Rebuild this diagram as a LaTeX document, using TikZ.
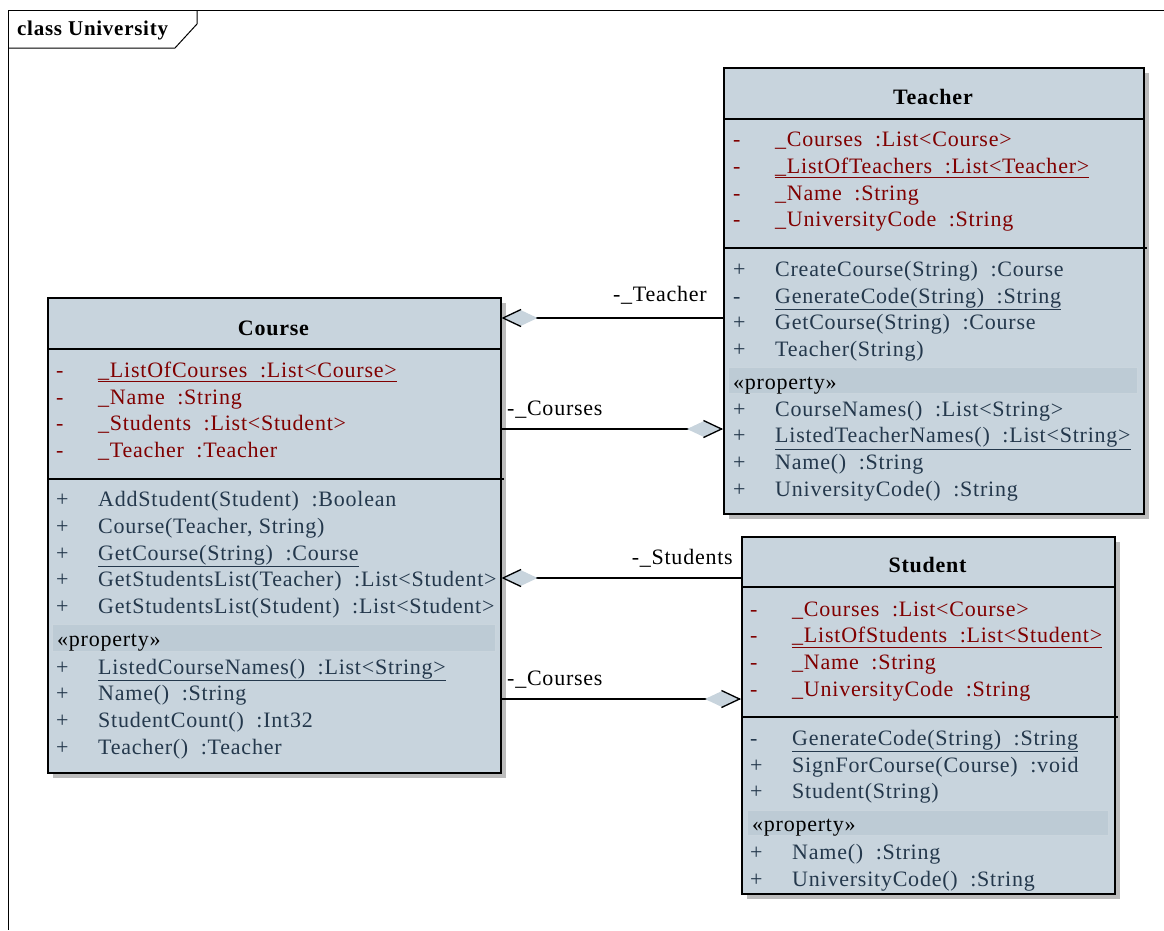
\documentclass[tikz,border=0pt]{standalone}
\usepackage{fontspec}
\setmainfont{Liberation Serif}[LetterSpace=3.5]
\usetikzlibrary{positioning,calc,arrows.meta,shadows}
\definecolor{classfill}{RGB}{200,212,221}
\definecolor{propband}{RGB}{189,203,213}
\definecolor{attrred}{RGB}{128,0,0}
\definecolor{opblue}{RGB}{36,56,76}
\definecolor{shadowgrey}{RGB}{188,188,188}
\newcommand{\vis}[1]{\makebox[42pt][l]{#1}}
\tikzset{>=latex}

\begin{document}
\begin{tikzpicture}[x=1pt, y=-1pt,
  every node/.style={font=\fontsize{22}{26}\selectfont, inner sep=0pt},
  classbox/.style={draw, line width=1.5pt, fill=classfill, anchor=north west,
    drop shadow={shadow xshift=5pt, shadow yshift=-5pt, fill=shadowgrey, opacity=1}},
  sepline/.style={line width=1.5pt},
  band/.style={fill=propband, draw=propband!80!white, line width=0.6pt},
  header/.style={anchor=base, font=\fontsize{22}{26}\selectfont\bfseries},
  attr/.style={anchor=base west, text=attrred},
  oper/.style={anchor=base west, text=opblue},
  stereo/.style={anchor=base west, text=black},
  rolename/.style={text=black},
  aggr/.style={line width=1.3pt,
    -{Diamond[length=36pt, width=17pt, color=classfill]}},
  tipedge/.style={line width=1.3pt,
    -{Straight Barb[length=18pt, width=17pt, line width=1.3pt]}}
]
\useasboundingbox (0,0) rectangle (1164,930);

% frame
\draw[line width=0.8pt] (1164,10) -- (8,10) -- (8,930);
\draw[line width=1pt] (197,10) -- (197,24) -- (175,48) -- (8,48);
\node[anchor=base west, font=\fontsize{21}{26}\selectfont\bfseries] (frame) at (17,35) {class University};

% class boxes
\node[classbox, minimum width=453pt, minimum height=475pt] (course) at (47,297) {};
\node[classbox, minimum width=420pt, minimum height=446pt] (teacher) at (723,67) {};
\node[classbox, minimum width=373pt, minimum height=357pt] (student) at (741,536) {};

\draw[sepline] ($(course.north west)+(0,52)$) -- ($(course.north east)+(0,52)$);
\draw[sepline] ($(course.north west)+(0,182)$) -- ($(course.north east)+(2,182)$);
\draw[sepline] ($(teacher.north west)+(0,52)$) -- ($(teacher.north east)+(0,52)$);
\draw[sepline] ($(teacher.north west)+(0,181)$) -- ($(teacher.north east)+(2,181)$);
\draw[sepline] ($(student.north west)+(0,51)$) -- ($(student.north east)+(0,51)$);
\draw[sepline] ($(student.north west)+(0,181)$) -- ($(student.north east)+(2,181)$);

\path[band] (52,624) rectangle (495,651);
\path[band] (728,367) rectangle (1137,393);
\path[band] (747,810) rectangle (1108,835);

% associations
\draw[aggr] (teacher.west |- 0,318) -- (course.east |- 0,318);
\draw[aggr] (course.east |- 0,429) -- (teacher.west |- 0,429);
\draw[aggr] (student.west |- 0,578) -- (course.east |- 0,578);
\draw[aggr] (course.east |- 0,699) -- (student.west |- 0,699);
\draw[tipedge] (course.east |- 0,318) ++(1,0) -- (course.east |- 0,318);
\draw[tipedge] (teacher.west |- 0,429) ++(-1,0) -- (teacher.west |- 0,429);
\draw[tipedge] (course.east |- 0,578) ++(1,0) -- (course.east |- 0,578);
\draw[tipedge] (student.west |- 0,699) ++(-1,0) -- (student.west |- 0,699);
\node[rolename, anchor=base east] (r-teacher) at (707,301.7) {-\_Teacher};
\node[rolename, anchor=base west] (r-courses) at (507,415) {-\_Courses};
\node[rolename, anchor=base east] (r-students) at (733,564) {-\_Students};
\node[rolename, anchor=base west] (r-courses2) at (507,685) {-\_Courses};

% Course
\node[header] (c-head) at (273.5,335) {Course};
\node[attr] (c-a1) at (56,377.3) {\vis{-}\underline{\_ListOfCourses~ :List<Course>}};
\node[attr] (c-a2) at (56,404) {\vis{-}\_Name~ :String};
\node[attr] (c-a3) at (56,430.7) {\vis{-}\_Students~ :List<Student>};
\node[attr] (c-a4) at (56,457.3) {\vis{-}\_Teacher~ :Teacher};
\node[oper] (c-o1) at (56,506.7) {\vis{+}AddStudent(Student)~ :Boolean};
\node[oper] (c-o2) at (56,533.3) {\vis{+}Course(Teacher, String)};
\node[oper] (c-o3) at (56,560) {\vis{+}\underline{GetCourse(String)~ :Course}};
\node[oper] (c-o4) at (56,586.7) {\vis{+}GetStudentsList(Teacher)~ :List<Student>};
\node[oper] (c-o5) at (56,613.3) {\vis{+}GetStudentsList(Student)~ :List<Student>};
\node[stereo] (c-prop) at (57,646.7) {«property»};
\node[oper] (c-o6) at (56,674) {\vis{+}\underline{ListedCourseNames()~ :List<String>}};
\node[oper] (c-o7) at (56,700.7) {\vis{+}Name()~ :String};
\node[oper] (c-o8) at (56,727.3) {\vis{+}StudentCount()~ :Int32};
\node[oper] (c-o9) at (56,754) {\vis{+}Teacher()~ :Teacher};

% Teacher
\node[header] (t-head) at (933,104) {Teacher};
\node[attr] (t-a1) at (733,146.7) {\vis{-}\_Courses~ :List<Course>};
\node[attr] (t-a2) at (733,173.3) {\vis{-}\underline{\_ListOfTeachers~ :List<Teacher>}};
\node[attr] (t-a3) at (733,200) {\vis{-}\_Name~ :String};
\node[attr] (t-a4) at (733,226.7) {\vis{-}\_UniversityCode~ :String};
\node[oper] (t-o1) at (733,276.3) {\vis{+}CreateCourse(String)~ :Course};
\node[oper] (t-o2) at (733,303) {\vis{-}\underline{GenerateCode(String)~ :String}};
\node[oper] (t-o3) at (733,329.7) {\vis{+}GetCourse(String)~ :Course};
\node[oper] (t-o4) at (733,356.3) {\vis{+}Teacher(String)};
\node[stereo] (t-prop) at (733,389) {«property»};
\node[oper] (t-o5) at (733,416) {\vis{+}CourseNames()~ :List<String>};
\node[oper] (t-o6) at (733,442.7) {\vis{+}\underline{ListedTeacherNames()~ :List<String>}};
\node[oper] (t-o7) at (733,469.3) {\vis{+}Name()~ :String};
\node[oper] (t-o8) at (733,496) {\vis{+}UniversityCode()~ :String};

% Student
\node[header] (s-head) at (927.5,572.3) {Student};
\node[attr] (s-a1) at (750,616) {\vis{-}\_Courses~ :List<Course>};
\node[attr] (s-a2) at (750,642.7) {\vis{-}\underline{\_ListOfStudents~ :List<Student>}};
\node[attr] (s-a3) at (750,669.3) {\vis{-}\_Name~ :String};
\node[attr] (s-a4) at (750,696) {\vis{-}\_UniversityCode~ :String};
\node[oper] (s-o1) at (750,745.3) {\vis{-}\underline{GenerateCode(String)~ :String}};
\node[oper] (s-o2) at (750,772) {\vis{+}SignForCourse(Course)~ :void};
\node[oper] (s-o3) at (750,798.7) {\vis{+}Student(String)};
\node[stereo] (s-prop) at (752,831.7) {«property»};
\node[oper] (s-o4) at (750,859.3) {\vis{+}Name()~ :String};
\node[oper] (s-o5) at (750,886) {\vis{+}UniversityCode()~ :String};
\end{tikzpicture}
\end{document}
